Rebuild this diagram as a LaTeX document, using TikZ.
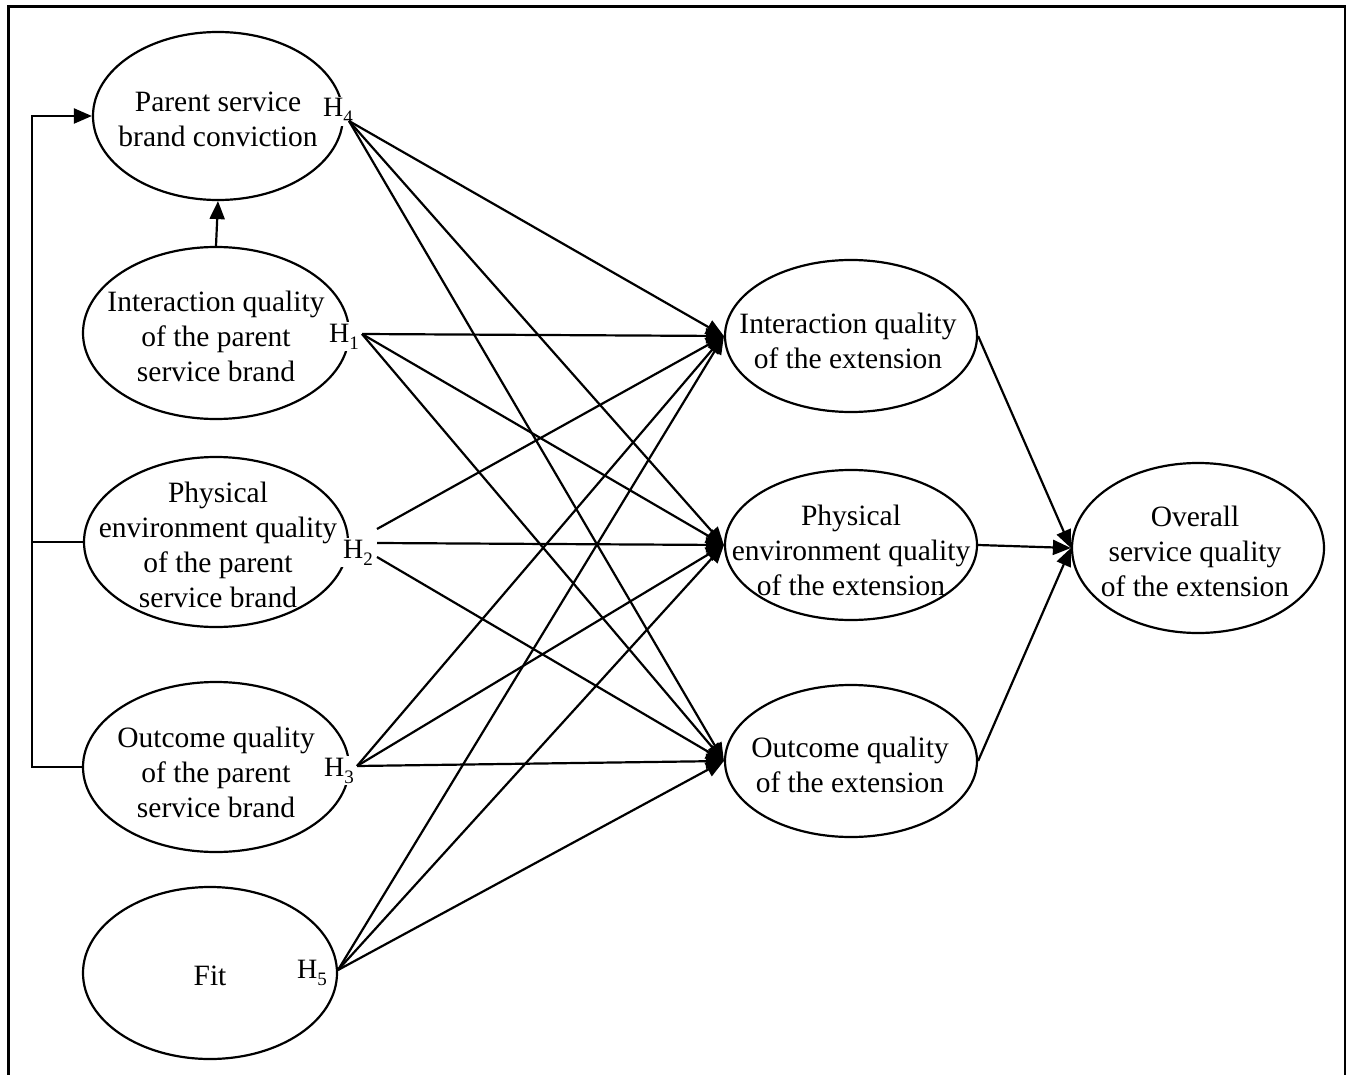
\documentclass[tikz,border=0pt]{standalone}
\usepackage{fontspec}
\setmainfont{Liberation Serif}
\usetikzlibrary{shapes.geometric,arrows.meta}
\tikzset{
  ell/.style={draw, ellipse, line width=2.2pt, inner sep=0pt},
  txt/.style={align=center, font=\fontsize{29.5}{35}\selectfont, inner sep=0pt},
  hlab/.style={font=\fontsize{28}{30}\selectfont, fill=white, inner sep=2pt, anchor=base west},
  arr/.style={line width=2.2pt, -{Triangle[length=18pt,width=15pt]}},
  ln/.style={line width=2.2pt}
}
\newcommand{\hsub}[1]{H\raisebox{-0.25em}{\fontsize{19}{19}\selectfont #1}}
\begin{document}
\begin{tikzpicture}[x=1pt,y=-1pt]
\useasboundingbox (0,0) rectangle (1346,1075);
% frame
\draw[line width=3pt] (8,1075) -- (8,7) -- (1345,7) -- (1345,1075);

% ellipses
\node[ell, minimum width=250, minimum height=168] (c)  at (218,116) {};
\node[ell, minimum width=266, minimum height=172] (i1) at (216,333) {};
\node[ell, minimum width=264, minimum height=170] (p1) at (216,542) {};
\node[ell, minimum width=266, minimum height=170] (o1) at (216,767) {};
\node[ell, minimum width=254, minimum height=172] (f)  at (210,973) {};
\node[ell, minimum width=252, minimum height=152] (m1) at (851,336) {};
\node[ell, minimum width=252, minimum height=150] (m2) at (851,545) {};
\node[ell, minimum width=252, minimum height=152] (m3) at (851,761) {};
\node[ell, minimum width=252, minimum height=170] (ov) at (1198,548) {};

% texts
\node[txt] (tc)  at (218,119.5) {Parent service\\brand conviction};
\node[txt] (ti1) at (216,336) {Interaction quality\\of the parent\\service brand};
\node[txt] (tp1) at (218,545) {Physical\\environment quality\\of the parent\\service brand};
\node[txt] (to1) at (216,772) {Outcome quality\\of the parent\\service brand};
\node[txt] (tf)  at (210,976) {Fit};
\node[txt] (tm1) at (848,340.5) {Interaction quality\\of the extension};
\node[txt] (tm2) at (851,550) {Physical\\environment quality\\of the extension};
\node[txt] (tm3) at (850,765) {Outcome quality\\of the extension};
\node[txt] (tov) at (1195,551.5) {Overall\\service quality\\of the extension};

% hypothesis labels
\node[hlab] (h4) at (321,117) {\hsub{4}};
\node[hlab] (h1) at (327,342) {\hsub{1}};
\node[hlab] (h2) at (341,558) {\hsub{2}};
\node[hlab] (h3) at (322,776) {\hsub{3}};
\node[hlab, fill=none] (h5) at (295,978) {\hsub{5}};

% start coordinates
\coordinate (s4) at (349,121);
\coordinate (s1) at (362,334);
\coordinate (s2a) at (377,529);
\coordinate (s2b) at (377,543);
\coordinate (s2c) at (377,557);
\coordinate (s3) at (357,766);
\coordinate (s5) at (338,970);

% paths to the extension constructs
\foreach \t in {m1,m2,m3} {
  \draw[arr] (s4) -- (\t.west);
  \draw[arr] (s1) -- (\t.west);
  \draw[arr] (s3) -- (\t.west);
  \draw[arr] (s5) -- (\t.west);
}
\draw[arr] (s2a) -- (m1.west);
\draw[arr] (s2b) -- (m2.west);
\draw[arr] (s2c) -- (m3.west);

% to overall
\draw[arr] (m1.east) -- (ov.west);
\draw[arr] (m2.east) -- (ov.west);
\draw[arr] (m3.east) -- (ov.west);

% interaction -> conviction
\draw[arr] (i1.north) -- (c.south);

% bracket
\coordinate (bx) at (32,0);
\draw[ln] (p1.west) -- (p1.west -| bx);
\draw[arr] (o1.west) -- (o1.west -| bx) |- (c.west);
\end{tikzpicture}
\end{document}
